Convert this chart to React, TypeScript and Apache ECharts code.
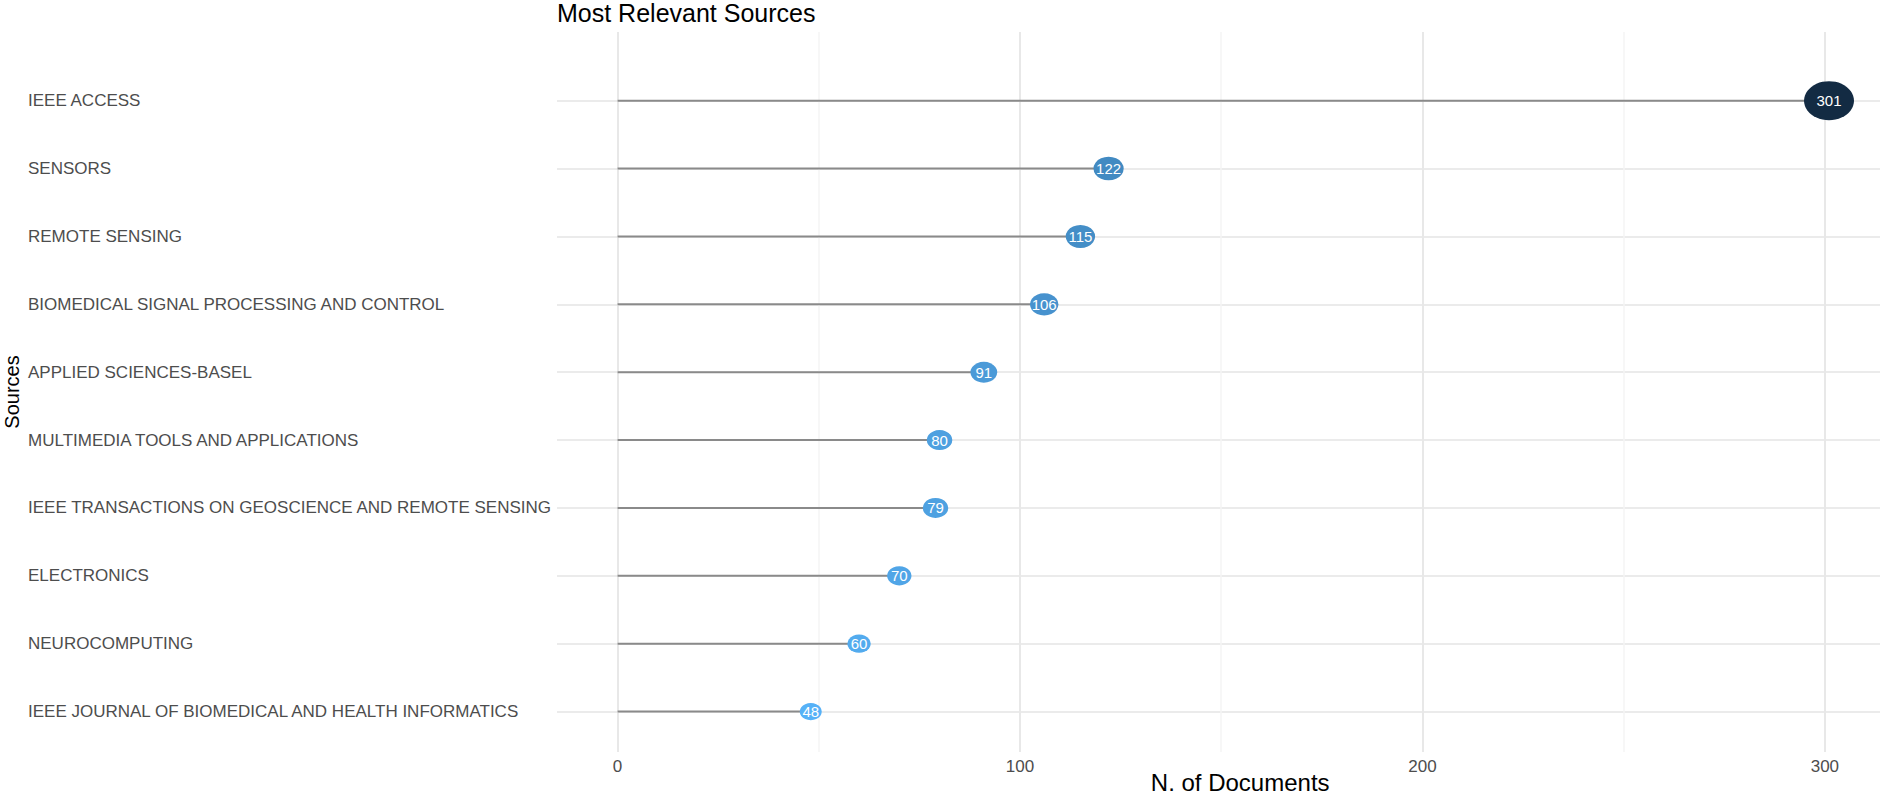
import React, { useEffect, useRef } from "react";
import * as echarts from "echarts";

const sources: string[] = [
  "IEEE ACCESS",
  "SENSORS",
  "REMOTE SENSING",
  "BIOMEDICAL SIGNAL PROCESSING AND CONTROL",
  "APPLIED SCIENCES-BASEL",
  "MULTIMEDIA TOOLS AND APPLICATIONS",
  "IEEE TRANSACTIONS ON GEOSCIENCE AND REMOTE SENSING",
  "ELECTRONICS",
  "NEUROCOMPUTING",
  "IEEE JOURNAL OF BIOMEDICAL AND HEALTH INFORMATICS",
];
const documents: number[] = [301, 122, 115, 106, 91, 80, 79, 70, 60, 48];

const chartTitle = "Most Relevant Sources";
const xTitle = "N. of Documents";
const yTitle = "Sources";

const FONT = "'Liberation Sans', Arial, Helvetica, sans-serif";

export default function App() {
  const ref = useRef<HTMLDivElement>(null);

  useEffect(() => {
    document.body.style.margin = "0";
    if (!ref.current) return;
    const chart = echarts.init(ref.current, undefined, { renderer: "svg" });
    const n = sources.length;
    const vMin = Math.min(...documents);
    const vMax = Math.max(...documents);
    const pts = documents.map((v, i) => [v, n - 1 - i]);
    const sizeOf = (v: number) => {
      const w = 22 + (28 * (v - vMin)) / (vMax - vMin);
      return [w, w / 1.28];
    };

    chart.setOption({
      animation: false,
      textStyle: { fontFamily: FONT },
      title: {
        text: chartTitle,
        left: 557,
        top: 0,
        padding: 0,
        textStyle: { fontSize: 25, fontWeight: "normal", color: "#000", fontFamily: FONT },
      },
      grid: [
        { left: 617.5, right: 55.1, top: 32, bottom: 44, containLabel: false, outerBoundsMode: "none" },
        { left: 557, right: 0, top: 100.7, bottom: 84.4, containLabel: false, outerBoundsMode: "none" },
      ],
      visualMap: {
        show: false,
        type: "continuous",
        min: vMin,
        max: vMax,
        dimension: 0,
        seriesIndex: 1,
        inRange: { color: ["#56B1F7", "#132B43"] },
      },
      xAxis: [
        {
          type: "value",
          gridIndex: 0,
          min: 0,
          max: 300,
          interval: 100,
          name: xTitle,
          nameLocation: "middle",
          nameGap: 18,
          nameMoveOverlap: false,
          nameTextStyle: {
            fontSize: 24,
            lineHeight: 24,
            color: "#000",
            fontFamily: FONT,
            padding: [0, 0, 0, 38],
          },
          axisLine: { show: false },
          axisTick: { show: false },
          axisLabel: { fontSize: 17, color: "#4d4d4d", margin: 6, fontFamily: FONT },
          splitLine: { show: true, lineStyle: { color: "#e8e8e8", width: 2 } },
          minorTick: { show: false, splitNumber: 2 },
          minorSplitLine: { show: true, lineStyle: { color: "#f4f4f4", width: 1.5 } },
        },
        {
          type: "value",
          gridIndex: 1,
          min: -15.05,
          max: 313.67,
          show: false,
          splitLine: { show: false },
        },
      ],
      yAxis: [
        {
          type: "value",
          gridIndex: 0,
          min: 0,
          max: 1,
          name: yTitle,
          nameLocation: "middle",
          nameGap: 596,
          nameMoveOverlap: false,
          nameTextStyle: { fontSize: 20, color: "#000", fontFamily: FONT },
          axisLine: { show: false },
          axisTick: { show: false },
          axisLabel: { show: false },
          splitLine: { show: false },
        },
        {
          type: "value",
          gridIndex: 1,
          min: 0,
          max: n - 1,
          interval: 1,
          axisLine: { show: false },
          axisTick: { show: false },
          axisLabel: {
            align: "left",
            margin: 529,
            fontSize: 17,
            color: "#4d4d4d",
            fontFamily: FONT,
            formatter: (v: number) => sources[n - 1 - Math.round(v)] ?? "",
          },
          splitLine: { show: true, lineStyle: { color: "#ebebeb", width: 2 } },
        },
      ],
      series: [
        {
          type: "custom",
          xAxisIndex: 1,
          yAxisIndex: 1,
          clip: false,
          data: pts,
          encode: { x: 0, y: 1 },
          renderItem: (params: any, api: any) => {
            const a = api.coord([0, api.value(1)]);
            const b = api.coord([api.value(0), api.value(1)]);
            return {
              type: "line",
              shape: { x1: a[0], y1: a[1], x2: b[0], y2: b[1] },
              style: { stroke: "#8a8a8a", lineWidth: 2 },
            };
          },
        },
        {
          type: "scatter",
          xAxisIndex: 1,
          yAxisIndex: 1,
          clip: false,
          data: pts,
          symbol: "circle",
          symbolSize: (d: number[]) => sizeOf(d[0]),
          itemStyle: { opacity: 1 },
          label: {
            show: true,
            position: "inside",
            color: "#ffffff",
            fontSize: 15,
            fontFamily: FONT,
            formatter: (p: any) => String(p.value[0]),
          },
        },
      ],
    });

    return () => chart.dispose();
  }, []);

  return <div ref={ref} style={{ width: 1880, height: 796 }} />;
}
